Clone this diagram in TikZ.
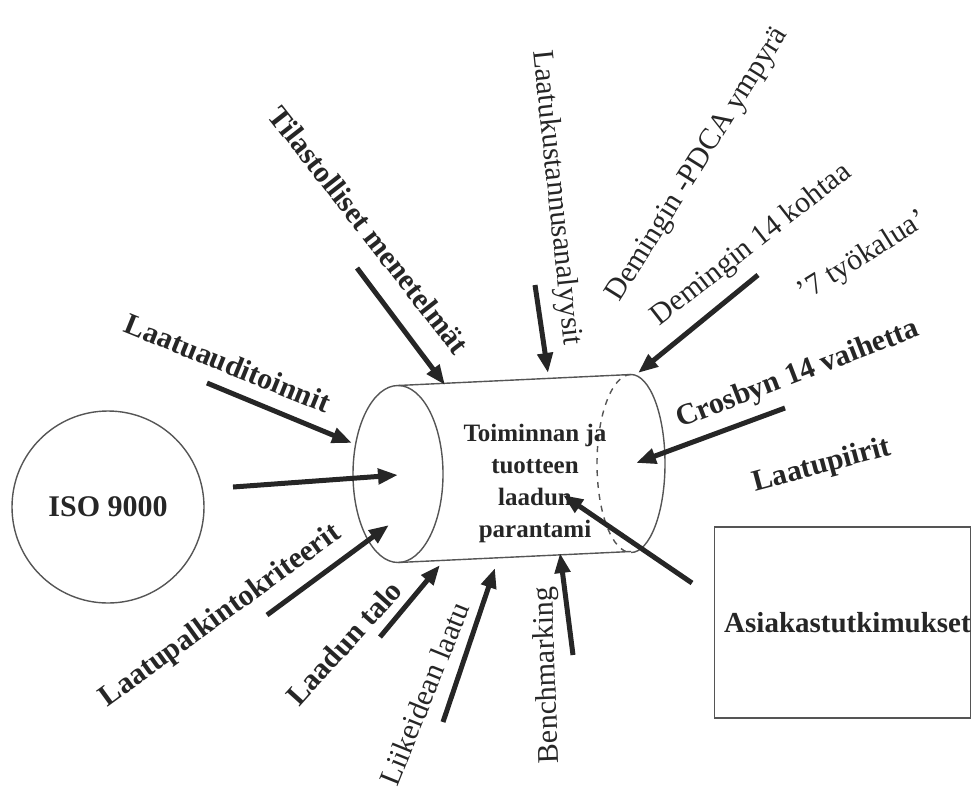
\documentclass[tikz,border=0pt]{standalone}
\usepackage{fontspec}
\setmainfont{Liberation Serif}
\usetikzlibrary{arrows.meta}
\definecolor{ink}{HTML}{262626}
\definecolor{rimc}{HTML}{555555}
\tikzset{
  lbl/.style={font=\fontsize{15}{17}\selectfont\bfseries, text=ink, inner sep=0pt},
  lblr/.style={font=\fontsize{15}{17}\selectfont, text=ink, inner sep=0pt},
  pil/.style={line width=2.5pt, draw=ink, -{Triangle[length=10pt,width=7.5pt]}},
  rim/.style={draw=rimc, line width=0.7pt},
}
\begin{document}
\begin{tikzpicture}[x=0.5pt, y=-0.5pt]
    \useasboundingbox (0,0) rectangle (973,793);
    % cylinder
    \draw[rim] (398,474) ellipse [x radius=22.5pt, y radius=44.25pt];
    \draw[rim] (398,385.5) -- (631,374.5);
    \draw[rim] (398,562.5) -- (631,551.5);
    \draw[rim] (631,374.5) arc [start angle=90, end angle=-90, x radius=17pt, y radius=44.5pt];
    \draw[rim, dashed] (631,374.5) arc [start angle=90, end angle=270, x radius=17pt, y radius=44.5pt];
    \node (core) [lbl, font=\fontsize{12.5}{16}\selectfont\bfseries, align=center] at (535,483) {Toiminnan ja\\tuotteen\\laadun\\parantami};
    % sources
    \node (iso) [lbl, circle, draw=rimc, line width=0.7pt, minimum size=96pt] at (108,507) {ISO 9000};
    \node (asi) [lbl, font=\fontsize{14.5}{17}\selectfont\bfseries, draw=rimc, line width=0.7pt, minimum width=127.5pt, minimum height=95.5pt] at (842.5,622.5) {\hspace*{5pt}Asiakastutkimukset};
    \node (til) [lbl, rotate=-52] at (369,230) {Tilastolliset menetelmät};
    \node (aud) [lbl, rotate=-22] at (228,363) {Laatuauditoinnit};
    \node (kus) [lblr, rotate=-84] at (556,198) {Laatukustannusanalyysit};
    \node (pdca) [lblr, rotate=58] at (698,165) {Demingin -PDCA ympyrä};
    \node (dem) [lblr, rotate=38] at (752,245) {Demingin 14 kohtaa};
    \node (tyo) [lblr, rotate=32] at (863,257) {'7 työkalua'};
    \node (cro) [lbl, rotate=21] at (798,375) {Crosbyn 14 vaihetta};
    \node (pii) [lbl, rotate=15] at (822,466) {Laatupiirit};
    \node (pal) [lbl, rotate=36] at (221,616) {Laatupalkintokriteerit};
    \node (tal) [lbl, rotate=48] at (344,643) {Laadun talo};
    \node (lii) [lblr, rotate=68] at (424,694) {Liikeidean laatu};
    \node (ben) [lblr, rotate=92] at (548,675) {Benchmarking};
    % arrows
    \coordinate (tilA) at (357,268);  \coordinate (tilB) at (445,385);
    \coordinate (audA) at (207,383);  \coordinate (audB) at (352,443);
    \coordinate (isoA) at (233,487);  \coordinate (isoB) at (398,475);
    \coordinate (palA) at (267,615);  \coordinate (palB) at (389,525);
    \coordinate (talA) at (380,637);  \coordinate (talB) at (440,565);
    \coordinate (liiA) at (443,722);  \coordinate (liiB) at (495,568);
    \coordinate (benA) at (573,655);  \coordinate (benB) at (560,553);
    \coordinate (asiA) at (692,583);  \coordinate (asiB) at (563,495);
    \coordinate (croA) at (785,408);  \coordinate (croB) at (636,463);
    \coordinate (demA) at (758,275);  \coordinate (demB) at (638,373);
    \coordinate (kusA) at (535,285);  \coordinate (kusB) at (548,373);
    \draw[pil] (tilA) -- (tilB);
    \draw[pil] (audA) -- (audB);
    \draw[pil] (isoA) -- (isoB);
    \draw[pil] (palA) -- (palB);
    \draw[pil] (talA) -- (talB);
    \draw[pil] (liiA) -- (liiB);
    \draw[pil] (benA) -- (benB);
    \draw[pil] (asiA) -- (asiB);
    \draw[pil] (croA) -- (croB);
    \draw[pil] (demA) -- (demB);
    \draw[pil] (kusA) -- (kusB);
\end{tikzpicture}
\end{document}
